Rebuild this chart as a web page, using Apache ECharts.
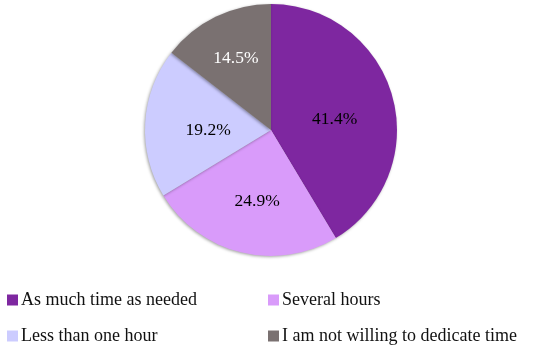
<!DOCTYPE html>
<html>
<head>
<meta charset="utf-8">
<script src="https://cdn.jsdelivr.net/npm/echarts@6/dist/echarts.min.js"></script>
<style>
  html, body { margin: 0; padding: 0; background: #fff; }
  #chart { width: 550px; height: 345px; }
</style>
</head>
<body>
<div id="chart"></div>
<script>
// categories and shares (%)
var categories = ['As much time as needed', 'Several hours', 'Less than one hour', 'I am not willing to dedicate time'];
var values = [41.4, 24.9, 19.2, 14.5];
var colors = ['#7E27A0', '#D99BFA', '#CCCCFF', '#7A7171'];
var labelColors = ['#000', '#000', '#000', '#fff'];
// small nudges so the labels sit where the original ones are
var labelOffsets = [[0, 7], [2, 7], [3, 4], [-6, -12]];

var chart = echarts.init(document.getElementById('chart'));

var font = '"Liberation Serif", "DejaVu Serif", serif';

// legend slots: 2 columns x 2 rows
var legendPos = [
  { left: 2, top: 286 },
  { left: 263, top: 286 },
  { left: 2, top: 322 },
  { left: 263, top: 322 }
];

var legends = categories.map(function (name, i) {
  return {
    data: [name],
    left: legendPos[i].left,
    top: legendPos[i].top,
    icon: 'rect',
    itemWidth: 11,
    itemHeight: 11,
    itemGap: 0,
    textStyle: { fontFamily: font, fontSize: 18, color: '#111', padding: [0, 0, 0, -2] },
    selectedMode: false
  };
});

var option = {
  backgroundColor: '#fff',
  animation: false,
  legend: legends,
  series: [{
    type: 'pie',
    center: [271, 130],
    radius: 126,
    startAngle: 90,
    clockwise: true,
    label: {
      position: 'inside',
      fontFamily: font,
      fontSize: 17.5,
      formatter: function (p) { return p.value.toFixed(1) + '%'; }
    },
    labelLine: { show: false },
    itemStyle: {
      borderWidth: 0,
      shadowColor: 'rgba(0,0,0,0.35)',
      shadowBlur: 3,
      shadowOffsetX: -1,
      shadowOffsetY: 1
    },
    data: categories.map(function (name, i) {
      return {
        name: name,
        value: values[i],
        itemStyle: { color: colors[i] },
        label: { color: labelColors[i], offset: labelOffsets[i] }
      };
    })
  }]
};

chart.setOption(option);
</script>
</body>
</html>
